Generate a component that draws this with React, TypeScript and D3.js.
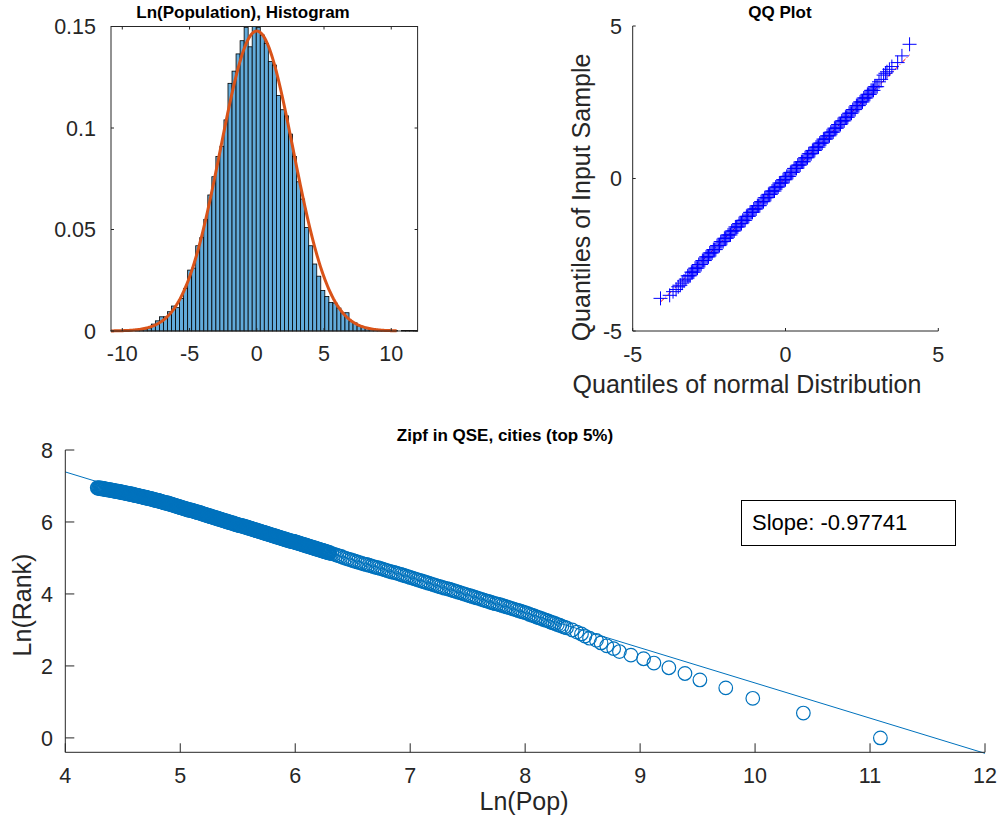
import React from 'react';
import * as d3 from 'd3';

// ---------- Histogram data ----------
const histBinStart = -10.84;
const histBinWidth = 0.3;
const histDensity = [
  0.0002, 0, 0, 0, 0.0002, 0, 0.0003,
  0.0006, 0.001, 0.0015, 0.0034, 0.005, 0.007, 0.007, 0.0095, 0.0123, 0.0115,
  0.016, 0.021, 0.030, 0.031, 0.042, 0.046, 0.055, 0.067, 0.076, 0.086,
  0.091, 0.104, 0.122, 0.128, 0.1365, 0.143, 0.1496, 0.140, 0.150,
  0.1496, 0.1458, 0.1417, 0.1327, 0.131, 0.116, 0.109, 0.106, 0.097, 0.086,
  0.0735, 0.065, 0.051, 0.042, 0.033, 0.027, 0.020, 0.017, 0.014, 0.0138,
  0.0113, 0.0089, 0.009, 0.0046, 0.004, 0.0025, 0.002, 0.0015, 0.001, 0.0006,
  0.0004, 0.0002, 0.0002, 0, 0.0002, 0, 0.0002, 0.0002, 0.0002, 0.0002,
];
const fitMu = 0;
const fitSigma = 2.7;
const fitFrom = -10.84;
const fitTo = 10.4;
const histXTicks = [-10, -5, 0, 5, 10];
const histYTicks = [0, 0.05, 0.1, 0.15];

// ---------- QQ data ----------
const qqTheoretical = [
  -4.09, -3.79, -3.68, -3.58, -3.51, -3.44, -3.38, -3.32, -3.26,
  -3.20, -3.16, -3.12, -3.08, -3.04, -3.00, -2.96, -2.92, -2.88, -2.84, -2.80, -2.76,
  -2.72, -2.68, -2.64, -2.60, -2.56, -2.52, -2.48, -2.44, -2.40, -2.36, -2.32, -2.28,
  -2.24, -2.20, -2.16, -2.12, -2.08, -2.04, -2.00, -1.96, -1.92, -1.88, -1.84, -1.80,
  -1.76, -1.72, -1.68, -1.64, -1.60, -1.56, -1.52, -1.48, -1.44, -1.40, -1.36, -1.32,
  -1.28, -1.24, -1.20, -1.16, -1.12, -1.08, -1.04, -1.00, -0.96, -0.92, -0.88, -0.84,
  -0.80, -0.76, -0.72, -0.68, -0.64, -0.60, -0.56, -0.52, -0.48, -0.44, -0.40, -0.36,
  -0.32, -0.28, -0.24, -0.20, -0.16, -0.12, -0.08, -0.04, 0.00, 0.04, 0.08, 0.12,
  0.16, 0.20, 0.24, 0.28, 0.32, 0.36, 0.40, 0.44, 0.48, 0.52, 0.56, 0.60,
  0.64, 0.68, 0.72, 0.76, 0.80, 0.84, 0.88, 0.92, 0.96, 1.00, 1.04, 1.08,
  1.12, 1.16, 1.20, 1.24, 1.28, 1.32, 1.36, 1.40, 1.44, 1.48, 1.52, 1.56,
  1.60, 1.64, 1.68, 1.72, 1.76, 1.80, 1.84, 1.88, 1.92, 1.96, 2.00, 2.04,
  2.08, 2.12, 2.16, 2.20, 2.24, 2.28, 2.32, 2.36, 2.40, 2.44, 2.48, 2.52,
  2.56, 2.60, 2.64, 2.68, 2.72, 2.76, 2.80, 2.84, 2.88, 2.92, 2.96, 3.00,
  3.06, 3.13, 3.21, 3.27, 3.32, 3.40, 3.48, 3.67, 3.81, 4.06,
];
const qqSample = [
  -3.93, -3.83, -3.71, -3.64, -3.55, -3.50, -3.43, -3.36, -3.30,
  -3.19, -3.19, -3.19, -3.07, -3.07, -3.07, -2.94, -2.94, -2.94, -2.82, -2.82, -2.82,
  -2.69, -2.69, -2.69, -2.57, -2.57, -2.57, -2.44, -2.44, -2.44, -2.33, -2.33, -2.33,
  -2.20, -2.20, -2.20, -2.07, -2.07, -2.07, -1.96, -1.96, -1.96, -1.85, -1.85, -1.85,
  -1.72, -1.72, -1.72, -1.59, -1.59, -1.59, -1.48, -1.48, -1.48, -1.37, -1.37, -1.37,
  -1.24, -1.24, -1.24, -1.11, -1.11, -1.11, -1.00, -1.00, -1.00, -0.89, -0.89, -0.89,
  -0.76, -0.76, -0.76, -0.63, -0.63, -0.63, -0.52, -0.52, -0.52, -0.41, -0.41, -0.41,
  -0.28, -0.28, -0.28, -0.15, -0.15, -0.15, -0.04, -0.04, -0.04, 0.07, 0.07, 0.07,
  0.20, 0.20, 0.20, 0.33, 0.33, 0.33, 0.44, 0.44, 0.44, 0.55, 0.55, 0.55,
  0.68, 0.68, 0.68, 0.81, 0.81, 0.81, 0.92, 0.92, 0.92, 1.03, 1.03, 1.03,
  1.16, 1.16, 1.16, 1.29, 1.29, 1.29, 1.40, 1.40, 1.40, 1.52, 1.52, 1.52,
  1.65, 1.65, 1.65, 1.77, 1.77, 1.77, 1.89, 1.89, 1.89, 2.01, 2.01, 2.01,
  2.14, 2.14, 2.14, 2.26, 2.26, 2.26, 2.39, 2.39, 2.39, 2.51, 2.51, 2.51,
  2.64, 2.64, 2.64, 2.76, 2.76, 2.76, 2.89, 2.89, 2.89, 3.01, 3.01, 3.01,
  3.17, 3.25, 3.39, 3.45, 3.50, 3.58, 3.67, 3.80, 4.02, 4.40,
];
const qqRefX = [-4.09, 4.06];
const qqRefY = [-4.05, 4.05];
const qqTicks = [-5, 0, 5];

// ---------- Zipf data ----------
const topLnPop = [11.09, 10.42, 9.98, 9.745, 9.52, 9.39, 9.25, 9.12, 9.03, 8.92,
  8.82, 8.77, 8.71, 8.66, 8.62, 8.56, 8.52, 8.49, 8.45, 8.41];
const topLnRank = [0, 0.69, 1.10, 1.39, 1.61, 1.79, 1.95, 2.08, 2.20, 2.30,
  2.40, 2.48, 2.56, 2.64, 2.71, 2.77, 2.83, 2.89, 2.94, 3.00];
const bandLnPop = [
  4.28, 4.29, 4.30, 4.31, 4.32, 4.33, 4.34, 4.35, 4.36, 4.37, 4.38, 4.39, 4.40, 4.41, 4.42, 4.43, 4.44, 4.45, 4.46, 4.47,
  4.48, 4.49, 4.50, 4.51, 4.52, 4.53, 4.54, 4.55, 4.56, 4.57, 4.58, 4.59, 4.60, 4.61, 4.62, 4.63, 4.64, 4.65, 4.66, 4.67,
  4.68, 4.69, 4.70, 4.71, 4.72, 4.73, 4.74, 4.75, 4.76, 4.77, 4.78, 4.79, 4.80, 4.81, 4.82, 4.83, 4.84, 4.85, 4.86, 4.87,
  4.88, 4.89, 4.90, 4.91, 4.92, 4.93, 4.94, 4.95, 4.96, 4.97, 4.98, 4.99, 5.00,
  5.01, 5.02, 5.03, 5.04, 5.05, 5.06, 5.07, 5.08, 5.09, 5.10, 5.11, 5.12, 5.13, 5.14, 5.15, 5.16, 5.17, 5.18, 5.19, 5.20,
  5.21, 5.22, 5.23, 5.24, 5.25, 5.26, 5.27, 5.28, 5.29, 5.30, 5.31, 5.32, 5.33, 5.34, 5.35, 5.36, 5.37, 5.38, 5.39, 5.40,
  5.41, 5.42, 5.43, 5.44, 5.45, 5.46, 5.47, 5.48, 5.49, 5.50, 5.51, 5.52, 5.53, 5.54, 5.55, 5.56, 5.57, 5.58, 5.59, 5.60,
  5.61, 5.62, 5.63, 5.64, 5.65, 5.66, 5.67, 5.68, 5.69, 5.70, 5.71, 5.72, 5.73, 5.74, 5.75, 5.76, 5.77, 5.78, 5.79, 5.80,
  5.81, 5.82, 5.83, 5.84, 5.85, 5.86, 5.87, 5.88, 5.89, 5.90, 5.91, 5.92, 5.93, 5.94, 5.95, 5.96, 5.97, 5.98, 5.99, 6.00,
  6.01, 6.02, 6.03, 6.04, 6.05, 6.06, 6.07, 6.08, 6.09, 6.10, 6.11, 6.12, 6.13, 6.14, 6.15, 6.16, 6.17, 6.18, 6.19, 6.20,
  6.21, 6.22, 6.23, 6.24, 6.25, 6.26, 6.27, 6.28, 6.29, 6.30,
  6.32, 6.34, 6.36, 6.38, 6.40, 6.42, 6.44, 6.46, 6.48, 6.50, 6.52, 6.54, 6.56, 6.58, 6.60, 6.62, 6.64, 6.66, 6.68, 6.70,
  6.72, 6.74, 6.76, 6.78, 6.80, 6.82, 6.84, 6.86, 6.88, 6.90, 6.92, 6.94, 6.96, 6.98, 7.00, 7.02, 7.04, 7.06, 7.08, 7.10,
  7.12, 7.14, 7.16, 7.18, 7.20, 7.22, 7.24, 7.26, 7.28, 7.30, 7.32, 7.34, 7.36, 7.38, 7.40, 7.42, 7.44, 7.46, 7.48, 7.50,
  7.52, 7.54, 7.56, 7.58, 7.60, 7.62, 7.64, 7.66, 7.68, 7.70, 7.72, 7.74, 7.76, 7.78, 7.80, 7.82, 7.84, 7.86, 7.88, 7.90,
  7.92, 7.94, 7.96, 7.98, 8.00, 8.02, 8.04, 8.06, 8.08, 8.10, 8.12, 8.14, 8.16, 8.18, 8.20, 8.22, 8.24, 8.26, 8.28, 8.30,
  8.32, 8.34, 8.36,
];
const bandLnRank = [
  6.95, 6.94, 6.94, 6.93, 6.93, 6.92, 6.92, 6.91, 6.90, 6.90, 6.89, 6.89, 6.88, 6.88, 6.87, 6.86, 6.86, 6.85, 6.85, 6.84,
  6.83, 6.83, 6.82, 6.81, 6.81, 6.80, 6.79, 6.79, 6.78, 6.77, 6.77, 6.76, 6.75, 6.74, 6.74, 6.73, 6.72, 6.71, 6.71, 6.70,
  6.69, 6.68, 6.68, 6.67, 6.66, 6.65, 6.65, 6.64, 6.63, 6.62, 6.61, 6.60, 6.60, 6.59, 6.58, 6.57, 6.56, 6.55, 6.54, 6.53,
  6.53, 6.52, 6.51, 6.50, 6.49, 6.48, 6.47, 6.46, 6.45, 6.44, 6.43, 6.42, 6.41,
  6.40, 6.39, 6.38, 6.37, 6.36, 6.35, 6.34, 6.33, 6.33, 6.32, 6.31, 6.30, 6.29, 6.28, 6.27, 6.26, 6.26, 6.24, 6.23, 6.22,
  6.21, 6.20, 6.19, 6.18, 6.17, 6.16, 6.15, 6.14, 6.13, 6.12, 6.11, 6.10, 6.09, 6.08, 6.07, 6.06, 6.05, 6.04, 6.03, 6.02,
  6.01, 6.00, 5.99, 5.98, 5.97, 5.97, 5.95, 5.94, 5.93, 5.92, 5.91, 5.90, 5.90, 5.89, 5.88, 5.87, 5.86, 5.85, 5.84, 5.83,
  5.82, 5.81, 5.80, 5.79, 5.78, 5.77, 5.76, 5.75, 5.74, 5.73, 5.72, 5.71, 5.70, 5.69, 5.68, 5.67, 5.66, 5.65, 5.64, 5.63,
  5.62, 5.61, 5.60, 5.59, 5.58, 5.57, 5.56, 5.55, 5.54, 5.53, 5.52, 5.51, 5.50, 5.49, 5.48, 5.47, 5.46, 5.46, 5.45, 5.44,
  5.43, 5.42, 5.41, 5.40, 5.39, 5.38, 5.37, 5.36, 5.35, 5.34, 5.33, 5.32, 5.31, 5.30, 5.29, 5.28, 5.27, 5.26, 5.25, 5.24,
  5.23, 5.22, 5.21, 5.20, 5.19, 5.18, 5.17, 5.16, 5.15, 5.14,
  5.12, 5.10, 5.08, 5.06, 5.04, 5.01, 4.99, 4.97, 4.95, 4.93, 4.91, 4.89, 4.87, 4.85, 4.83, 4.82, 4.80, 4.78, 4.76, 4.74,
  4.73, 4.71, 4.69, 4.67, 4.65, 4.63, 4.61, 4.60, 4.58, 4.56, 4.54, 4.52, 4.50, 4.48, 4.46, 4.44, 4.42, 4.40, 4.38, 4.36,
  4.34, 4.32, 4.30, 4.28, 4.26, 4.24, 4.22, 4.20, 4.18, 4.16, 4.15, 4.13, 4.11, 4.09, 4.07, 4.05, 4.03, 4.01, 3.99, 3.97,
  3.95, 3.93, 3.91, 3.89, 3.87, 3.85, 3.83, 3.81, 3.79, 3.77, 3.75, 3.73, 3.72, 3.70, 3.68, 3.66, 3.64, 3.62, 3.60, 3.58,
  3.56, 3.54, 3.52, 3.50, 3.48, 3.46, 3.43, 3.41, 3.39, 3.36, 3.34, 3.32, 3.29, 3.27, 3.25, 3.22, 3.20, 3.18, 3.15, 3.13,
  3.10, 3.08, 3.06,
];
const zipfSlope = -0.97741;
const zipfIntercept = 11.30;
const zipfXTicks = [4, 5, 6, 7, 8, 9, 10, 11, 12];
const zipfYTicks = [0, 2, 4, 6, 8];

const FONT = "'Liberation Sans', Arial, Helvetica, sans-serif";
const AX = '#262626';
const TICK_FS = 21.5;
const LABEL_FS = 25;
const TITLE_FS = 17;

export default function App() {
  // ---- Histogram scales ----
  const histEnd = histBinStart + histDensity.length * histBinWidth;
  const xH = d3.scaleLinear().domain([histBinStart, histEnd]).range([111, 417.6]);
  const yH = d3.scaleLinear().domain([0, 0.15]).range([331, 26.5]);
  const bars = histDensity
    .map((h, i) => ({ x0: histBinStart + i * histBinWidth, x1: histBinStart + (i + 1) * histBinWidth, h }))
    .filter((b) => b.h > 0);
  const pdf = (x: number) =>
    Math.exp(-((x - fitMu) ** 2) / (2 * fitSigma * fitSigma)) / (fitSigma * Math.sqrt(2 * Math.PI));
  const curveXs = d3.range(0, 241).map((i) => fitFrom + ((fitTo - fitFrom) * i) / 240);
  const curvePath = d3.line<number>().x((x) => xH(x)).y((x) => yH(pdf(x)))(curveXs) || '';
  const [hx0, hx1] = xH.range();
  const [hy0, hy1] = yH.range();

  // ---- QQ scales ----
  const xQ = d3.scaleLinear().domain([-5, 5]).range([632.7, 938.3]);
  const yQ = d3.scaleLinear().domain([-5, 5]).range([331, 26]);

  // ---- Zipf scales ----
  const xZ = d3.scaleLinear().domain([4, 12]).range([65.3, 985]);
  const yZ = d3.scaleLinear().domain([-0.4, 8]).range([752.3, 450]);
  const denseCut = 6.305;
  const zipfPts = [
    ...bandLnPop.map((x, i) => ({ x, y: bandLnRank[i] })),
    ...topLnPop.map((x, i) => ({ x, y: topLnRank[i] })),
  ];
  const fitLine = d3
    .line<number>()
    .x((x) => xZ(x))
    .y((x) => yZ(zipfIntercept + zipfSlope * x))([4, 12]) || '';

  const tickText = { fontFamily: FONT, fontSize: TICK_FS, fill: AX } as const;
  const tdy = 7.7;

  return (
    <div style={{ position: 'absolute', left: 0, top: 0 }}>
      <svg width={997} height={825} style={{ display: 'block', background: '#fff' }}>
        <rect x={0} y={0} width={997} height={825} fill="#fff" />

        {/* ================= Histogram ================= */}
        <g>
          {bars.map((b, i) => (
            <rect
              key={i}
              x={xH(b.x0)}
              y={yH(b.h)}
              width={xH(b.x1) - xH(b.x0)}
              height={yH(0) - yH(b.h)}
              fill="#62abdb"
              stroke="#000"
              strokeWidth={0.8}
            />
          ))}
          <path d={curvePath} fill="none" stroke="#D95319" strokeWidth={3} />
          <rect x={hx0} y={hy1} width={hx1 - hx0} height={hy0 - hy1} fill="none" stroke={AX} strokeWidth={1} />
          {histXTicks.map((t) => (
            <g key={t}>
              <line x1={xH(t)} x2={xH(t)} y1={hy0} y2={hy0 - 3} stroke={AX} />
              <line x1={xH(t)} x2={xH(t)} y1={hy1} y2={hy1 + 3} stroke={AX} />
              <text x={xH(t)} y={361} textAnchor="middle" {...tickText}>{String(t)}</text>
            </g>
          ))}
          {histYTicks.map((t) => (
            <g key={t}>
              <line x1={hx0} x2={hx0 + 3} y1={yH(t)} y2={yH(t)} stroke={AX} />
              <line x1={hx1} x2={hx1 - 3} y1={yH(t)} y2={yH(t)} stroke={AX} />
              <text x={96} y={yH(t) + tdy} textAnchor="end" {...tickText}>{String(t)}</text>
            </g>
          ))}
          <text x={243} y={18} textAnchor="middle" fontFamily={FONT} fontSize={TITLE_FS} fontWeight="bold" fill="#000">
            Ln(Population), Histogram
          </text>
        </g>

        {/* ================= QQ Plot ================= */}
        <g>
          <line
            x1={xQ(qqRefX[0])} y1={yQ(qqRefY[0])} x2={xQ(qqRefX[1])} y2={yQ(qqRefY[1])}
            stroke="#ff0000" strokeWidth={1} strokeDasharray="5,2,1,2"
          />
          {qqTheoretical.map((x, i) => (
            <path
              key={i}
              transform={`translate(${xQ(x)},${yQ(qqSample[i])})`}
              d="M-7,0H7M0,-7V7"
              stroke="#0000ff"
              strokeWidth={1}
              fill="none"
            />
          ))}
          <line x1={xQ(-5)} x2={xQ(-5)} y1={yQ(5)} y2={yQ(-5)} stroke={AX} />
          <line x1={xQ(-5)} x2={xQ(5)} y1={yQ(-5)} y2={yQ(-5)} stroke={AX} />
          {qqTicks.map((t) => (
            <g key={t}>
              <line x1={xQ(t)} x2={xQ(t)} y1={yQ(-5)} y2={yQ(-5) - 3} stroke={AX} />
              <text x={xQ(t)} y={362} textAnchor="middle" {...tickText}>{String(t)}</text>
              <line x1={xQ(-5)} x2={xQ(-5) + 3} y1={yQ(t)} y2={yQ(t)} stroke={AX} />
              <text x={622} y={yQ(t) + tdy} textAnchor="end" {...tickText}>{String(t)}</text>
            </g>
          ))}
          <text x={780} y={18} textAnchor="middle" fontFamily={FONT} fontSize={TITLE_FS} fontWeight="bold" fill="#000">
            QQ Plot
          </text>
          <text x={747} y={393} textAnchor="middle" fontFamily={FONT} fontSize={LABEL_FS} fill={AX}>
            Quantiles of normal Distribution
          </text>
          <text
            transform={`translate(590,197.5) rotate(-90)`}
            textAnchor="middle"
            fontFamily={FONT}
            fontSize={LABEL_FS}
            fill={AX}
          >
            Quantiles of Input Sample
          </text>
        </g>

        {/* ================= Zipf ================= */}
        <g>
          {zipfPts.map((p, i) => (
            <circle
              key={i}
              cx={xZ(p.x)}
              cy={yZ(p.y)}
              r={6.8}
              fill="none"
              stroke="#0072BD"
              strokeWidth={p.x < denseCut && p.y > 3.2 ? 1.7 : 1.2}
            />
          ))}
          <path d={fitLine} fill="none" stroke="#0072BD" strokeWidth={1} />
          <line x1={xZ(4)} x2={xZ(4)} y1={yZ(8)} y2={yZ(-0.4)} stroke={AX} />
          <line x1={xZ(4)} x2={xZ(12)} y1={yZ(-0.4)} y2={yZ(-0.4)} stroke={AX} />
          {zipfXTicks.map((t) => (
            <g key={t}>
              <line x1={xZ(t)} x2={xZ(t)} y1={yZ(-0.4)} y2={yZ(-0.4) - 9} stroke={AX} />
              <text x={xZ(t)} y={783} textAnchor="middle" {...tickText}>{String(t)}</text>
            </g>
          ))}
          {zipfYTicks.map((t) => (
            <g key={t}>
              <line x1={xZ(4)} x2={xZ(4) + 9} y1={yZ(t)} y2={yZ(t)} stroke={AX} />
              <text x={53} y={yZ(t) + tdy} textAnchor="end" {...tickText}>{String(t)}</text>
            </g>
          ))}
          <text x={505} y={441} textAnchor="middle" fontFamily={FONT} fontSize={TITLE_FS} fontWeight="bold" fill="#000">
            Zipf in QSE, cities (top 5%)
          </text>
          <text x={524} y={810} textAnchor="middle" fontFamily={FONT} fontSize={LABEL_FS} fill={AX}>
            Ln(Pop)
          </text>
          <text
            transform={`translate(31,605) rotate(-90)`}
            textAnchor="middle"
            fontFamily={FONT}
            fontSize={LABEL_FS}
            fill={AX}
          >
            Ln(Rank)
          </text>
          <rect x={741.5} y={500.5} width={214} height={45} fill="#fff" stroke="#000" strokeWidth={1} />
          <text x={752} y={530} fontFamily={FONT} fontSize={22} fill="#000">
            Slope: -0.97741
          </text>
        </g>
      </svg>
    </div>
  );
}
